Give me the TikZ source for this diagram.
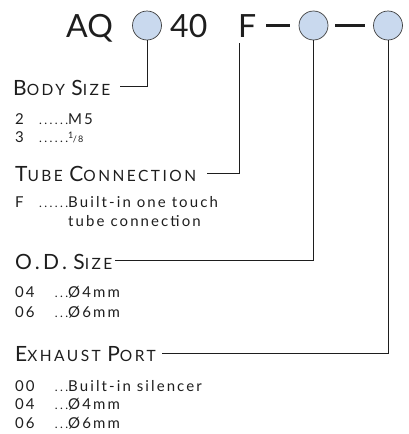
\documentclass[tikz,border=0pt]{standalone}
\usepackage{fontspec}
\setmainfont{Lato}
\newfontfamily\headfont{Lato}[LetterSpace=16]
\newfontfamily\itemfont{Lato}[LetterSpace=14]
\usetikzlibrary{positioning,calc}

\definecolor{bubblefill}{HTML}{C9D9EE}
\definecolor{ink}{HTML}{1E1E1E}
\newcommand{\Ini}[1]{{\fontsize{21}{21}\selectfont #1}}
\newcommand{\optrow}[3]{\makebox[53pt][l]{#1\hfill{\fontsize{12}{12}\selectfont\addfontfeature{LetterSpace=20}#2}}#3}
\newcommand{\frEighth}{{\fontsize{9}{9}\selectfont\raisebox{4pt}{1}\kern-0.5pt/8}}

\tikzset{
  bubble/.style={circle, draw=black!75, fill=bubblefill, line width=0.7pt, minimum size=29pt, inner sep=0pt},
  big/.style={anchor=base west, inner sep=0pt, text=ink, font=\fontsize{32}{32}\selectfont},
  head/.style={anchor=base west, inner sep=0pt, text=ink, text height=17pt, text depth=0pt, font=\headfont\fontsize{15.5}{16}\selectfont},
  item/.style={anchor=base west, inner sep=0pt, text=ink, font=\itemfont\fontsize{15}{15}\selectfont},
  lead/.style={line width=0.75pt, ink},
  dashln/.style={line width=2.4pt, ink},
}

\begin{document}
\begin{tikzpicture}[x=1pt, y=-1pt]
    \useasboundingbox (0,0) rectangle (408,434);

    % Part number
    \node[big] (aq) at (66,37) {AQ};
    \node[bubble] (c1) at (147,25.5) {};
    \node[big] (forty) at (170,37) {40};
    \node[big] (f) at (238,37) {F};
    \node[bubble] (c2) at (313.5,25.5) {};
    \node[bubble] (c3) at (388,25.5) {};
    \draw[dashln] ([xshift=10pt]c2.west -| f.east) -- ([xshift=-9pt]c2.west);
    \draw[dashln] ([xshift=7pt]c2.east) -- ([xshift=-8pt]c3.west);

    % Body size
    \node[head] (body) at (13,95) {\Ini{B}ODY \Ini{S}IZE};
    \node[item] (body2) at (15,124) {\optrow{2}{......}{M5}};
    \node[item] (body3) at (15,142) {\optrow{3}{......}{\frEighth}};
    \draw[lead] (c1.south) |- ([xshift=9pt]body.east);

    % Tube connection
    \node[head] (tube) at (15,181.5) {\Ini{T}UBE \Ini{C}ONNECTION};
    \node[item] (tubeF) at (15,207) {\optrow{F}{......}{Built-in one touch}};
    \node[item] (tubeF2) at (68,226) {tube connection};
    \draw[lead] ([xshift=1.5pt,yshift=-6pt]f.south west) |- ([xshift=11pt]tube.east);

    % O.D. size
    \node[head] (od) at (15,269) {\Ini{O.D.} \Ini{S}IZE};
    \node[item] (od04) at (15,297.5) {\optrow{04}{...}{Ø4mm}};
    \node[item] (od06) at (15,317.5) {\optrow{06}{...}{Ø6mm}};
    \draw[lead] (c2.south) |- ([xshift=2pt]od.east);

    % Exhaust port
    \node[head] (exh) at (15,361.5) {\Ini{E}XHAUST \Ini{P}ORT};
    \node[item] (exh00) at (15,391) {\optrow{00}{...}{Built-in silencer}};
    \node[item] (exh04) at (15,409.5) {\optrow{04}{...}{Ø4mm}};
    \node[item] (exh06) at (15,428) {\optrow{06}{...}{Ø6mm}};
    \draw[lead] (c3.south) |- ([xshift=6pt]exh.east);
\end{tikzpicture}
\end{document}
